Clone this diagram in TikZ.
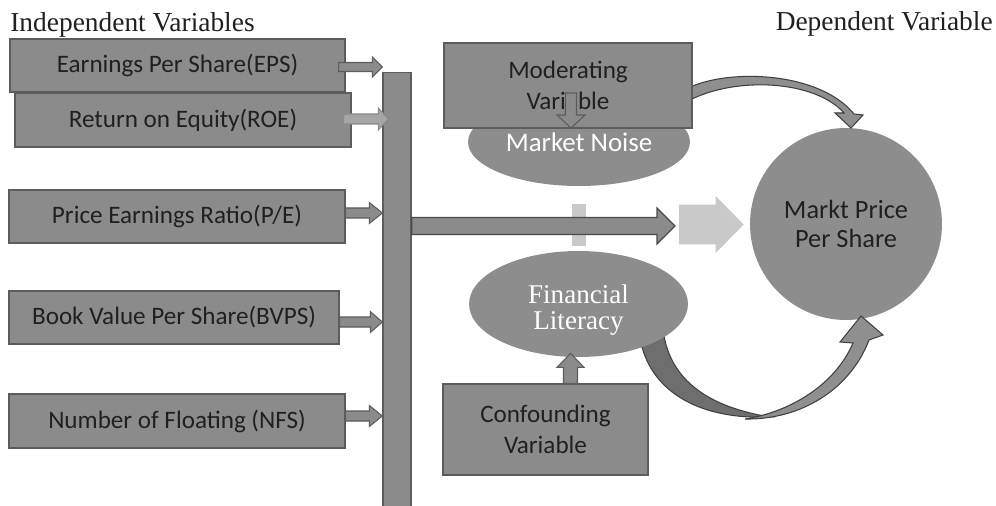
\documentclass[tikz,border=0pt]{standalone}
\usepackage{fontspec}
\setmainfont{Carlito}
\newfontfamily\serifa{Liberation Serif}
\usetikzlibrary{calc,shapes.geometric}
\definecolor{boxgray}{HTML}{8B8B8B}
\definecolor{edgegray}{HTML}{5C5C5C}
\definecolor{txtdark}{HTML}{202020}
\definecolor{lightg}{HTML}{C9C9C9}
\definecolor{roeg}{HTML}{A6A6A6}
\definecolor{roeedge}{HTML}{8A8A8A}
\definecolor{darkarc}{HTML}{6E6E6E}
\definecolor{lightarc}{HTML}{8F8F8F}
\definecolor{blobgray}{HTML}{8D8D8D}
% horizontal block arrow: style, from, to, shaft half, head half, head length
\newcommand\hblockarrow[6]{\path[#1] let \p1=(#2), \p2=(#3) in
  (\x1,\y1+#4) -- (\x2-#6,\y1+#4) -- (\x2-#6,\y1+#5) -- (\x2,\y1)
  -- (\x2-#6,\y1-#5) -- (\x2-#6,\y1-#4) -- (\x1,\y1-#4) -- cycle;}
% vertical block arrow: style, from, to, shaft half, head half, signed head length
\newcommand\vblockarrow[6]{\path[#1] let \p1=(#2), \p2=(#3) in
  (\x1+#4,\y1) -- (\x1+#4,\y2+#6) -- (\x1+#5,\y2+#6) -- (\x1,\y2)
  -- (\x1-#5,\y2+#6) -- (\x1-#4,\y2+#6) -- (\x1-#4,\y1) -- cycle;}
\tikzset{
  varbox/.style={draw=edgegray, line width=0.8pt, fill=boxgray, text=txtdark,
    inner sep=0pt, align=center, font=\fontsize{14.3}{17.5}\selectfont},
  blob/.style={fill=blobgray, inner sep=0pt, text=white, align=center},
  header/.style={inner sep=0pt, text=txtdark, font=\serifa\fontsize{15.6}{18}\selectfont},
  smallarrow/.style={draw=edgegray, line width=0.6pt, fill=boxgray},
  roearrow/.style={draw=roeedge, line width=0.6pt, fill=roeg},
  mainarrow/.style={draw=edgegray!80!black, line width=0.7pt, fill=boxgray},
  lightshape/.style={fill=lightg, draw=none},
  arcdark/.style={draw=edgegray!70!black, line width=0.6pt, fill=darkarc},
  arclight/.style={draw=edgegray!70!black, line width=0.6pt, fill=lightarc},
}
\begin{document}
\begin{tikzpicture}[x=0.02cm, y=-0.02cm]
\useasboundingbox (0,0) rectangle (996,506);
\fill[white] (0,0) rectangle (996,506);

% headers
\node[header, anchor=base west] (hind) at (10,32) {Independent Variables};
\node[header, anchor=base east] (hdep) at (993,31) {Dependent Variable};

% independent variable boxes
\node[varbox, minimum width=6.7cm, minimum height=1.06cm] (eps) at (177.5,65.5) {Earnings Per Share(EPS)};
\node[varbox, minimum width=6.72cm, minimum height=1.08cm] (roe) at (183,120) {Return on Equity(ROE)};
\node[varbox, minimum width=6.72cm, minimum height=1.06cm] (pe) at (177,216.5) {Price Earnings Ratio(P/E)};
\node[varbox, minimum width=6.6cm, minimum height=1.06cm] (bvps) at (174,317.5) {Book Value Per Share(BVPS)};
\node[varbox, minimum width=6.72cm, minimum height=1.08cm] (nfs) at (177,421) {Number of Floating (NFS)};

% collecting bar
\node[draw=edgegray, line width=0.8pt, fill=boxgray, inner sep=0pt,
      minimum width=0.56cm, minimum height=8.7cm] (bar) at (397,290) {};

% small arrows into the bar
\coordinate (epsA) at ($(eps.east)+(-7,1.5)$);
\coordinate (roeA) at ($(roe.east)+(-8,-1)$);
\coordinate (roeT) at ($(bar.west)+(6,0)$);
\coordinate (peA) at ($(pe.east)+(0,-3.5)$);
\coordinate (bvpsA) at ($(bvps.east)+(0,4.5)$);
\coordinate (nfsA) at ($(nfs.east)+(0,-5)$);
\hblockarrow{smallarrow}{epsA}{bar.west}{0.09cm}{0.2cm}{0.2cm}
\hblockarrow{roearrow}{roeA}{roeT}{0.1cm}{0.22cm}{0.2cm}
\hblockarrow{smallarrow}{peA}{bar.west}{0.1cm}{0.21cm}{0.26cm}
\hblockarrow{smallarrow}{bvpsA}{bar.west}{0.1cm}{0.21cm}{0.24cm}
\hblockarrow{smallarrow}{nfsA}{bar.west}{0.1cm}{0.21cm}{0.26cm}

% light marker and main arrow
\node[lightshape, inner sep=0pt, minimum width=0.28cm, minimum height=0.84cm] (mark) at (579,225) {};
\coordinate (mainend) at (675,226);
\coordinate (mainstart) at (bar.east |- mainend);
\hblockarrow{mainarrow}{mainstart}{mainend}{0.17cm}{0.36cm}{0.36cm}

% dependent variable
\node[circle, fill=blobgray, inner sep=0pt, minimum size=3.84cm, text=txtdark,
      align=center, font=\fontsize{15}{16}\selectfont] (mpps) at (846,224) {Markt Price\\Per Share};
\coordinate (lstart) at (679,224.5);
\coordinate (lend) at ($(mpps.west)+(-6,0.5)$);
\hblockarrow{lightshape}{lstart}{lend}{0.4cm}{0.57cm}{0.56cm}

% moderating variable
\node[blob, ellipse, minimum width=4.44cm, minimum height=1.76cm,
      font=\fontsize{15.3}{17}\selectfont] (noise) at (579,142) {Market Noise};
\path[arclight]
  (688,88) .. controls (730,68) and (820,72) .. (854,114)
  -- (863,115) -- (851,128) -- (835,113) -- (844,113)
  .. controls (815,80) and (735,76) .. (688,101) -- cycle;
\node[varbox, minimum width=4.96cm, minimum height=1.7cm] (mod) at (568,85.5) {Moderating\\Variable};
\coordinate (modA) at (571,93);
\coordinate (modT) at (571,128);
\vblockarrow{smallarrow}{modA}{modT}{0.11cm}{0.28cm}{0.26cm}

% confounding variable
\path[arcdark]
  (641,343) .. controls (652,392) and (700,420) .. (770,417)
  .. controls (715,408) and (673,385) .. (664,336) -- cycle;
\path[arclight]
  (745,419) .. controls (800,420) and (850,390) .. (869,340)
  -- (883,335) -- (861,316) -- (840,342) -- (853,343)
  .. controls (835,385) and (790,412) .. (745,419) -- cycle;
\node[blob, ellipse, minimum width=4.38cm, minimum height=2.12cm] (finlit) at (578.5,304) {};
\node[inner sep=0pt, text=white, align=center,
      font=\serifa\fontsize{15.4}{14.8}\selectfont] (finlittext) at ($(finlit.center)+(0,6)$) {Financial\\Literacy};
\node[varbox, minimum width=4.1cm, minimum height=1.82cm] (conf) at (545.5,429.5) {Confounding\\Variable};
\coordinate (confA) at ($(conf.north)+(25,0)$);
\coordinate (confT) at ($(finlit.south)+(-8,-4)$);
\path let \p1=(confA), \p2=(confT) in coordinate (confT2) at (\x1,\y2);
\vblockarrow{smallarrow}{confA}{confT2}{0.14cm}{0.27cm}{-0.28cm}
\end{tikzpicture}
\end{document}
